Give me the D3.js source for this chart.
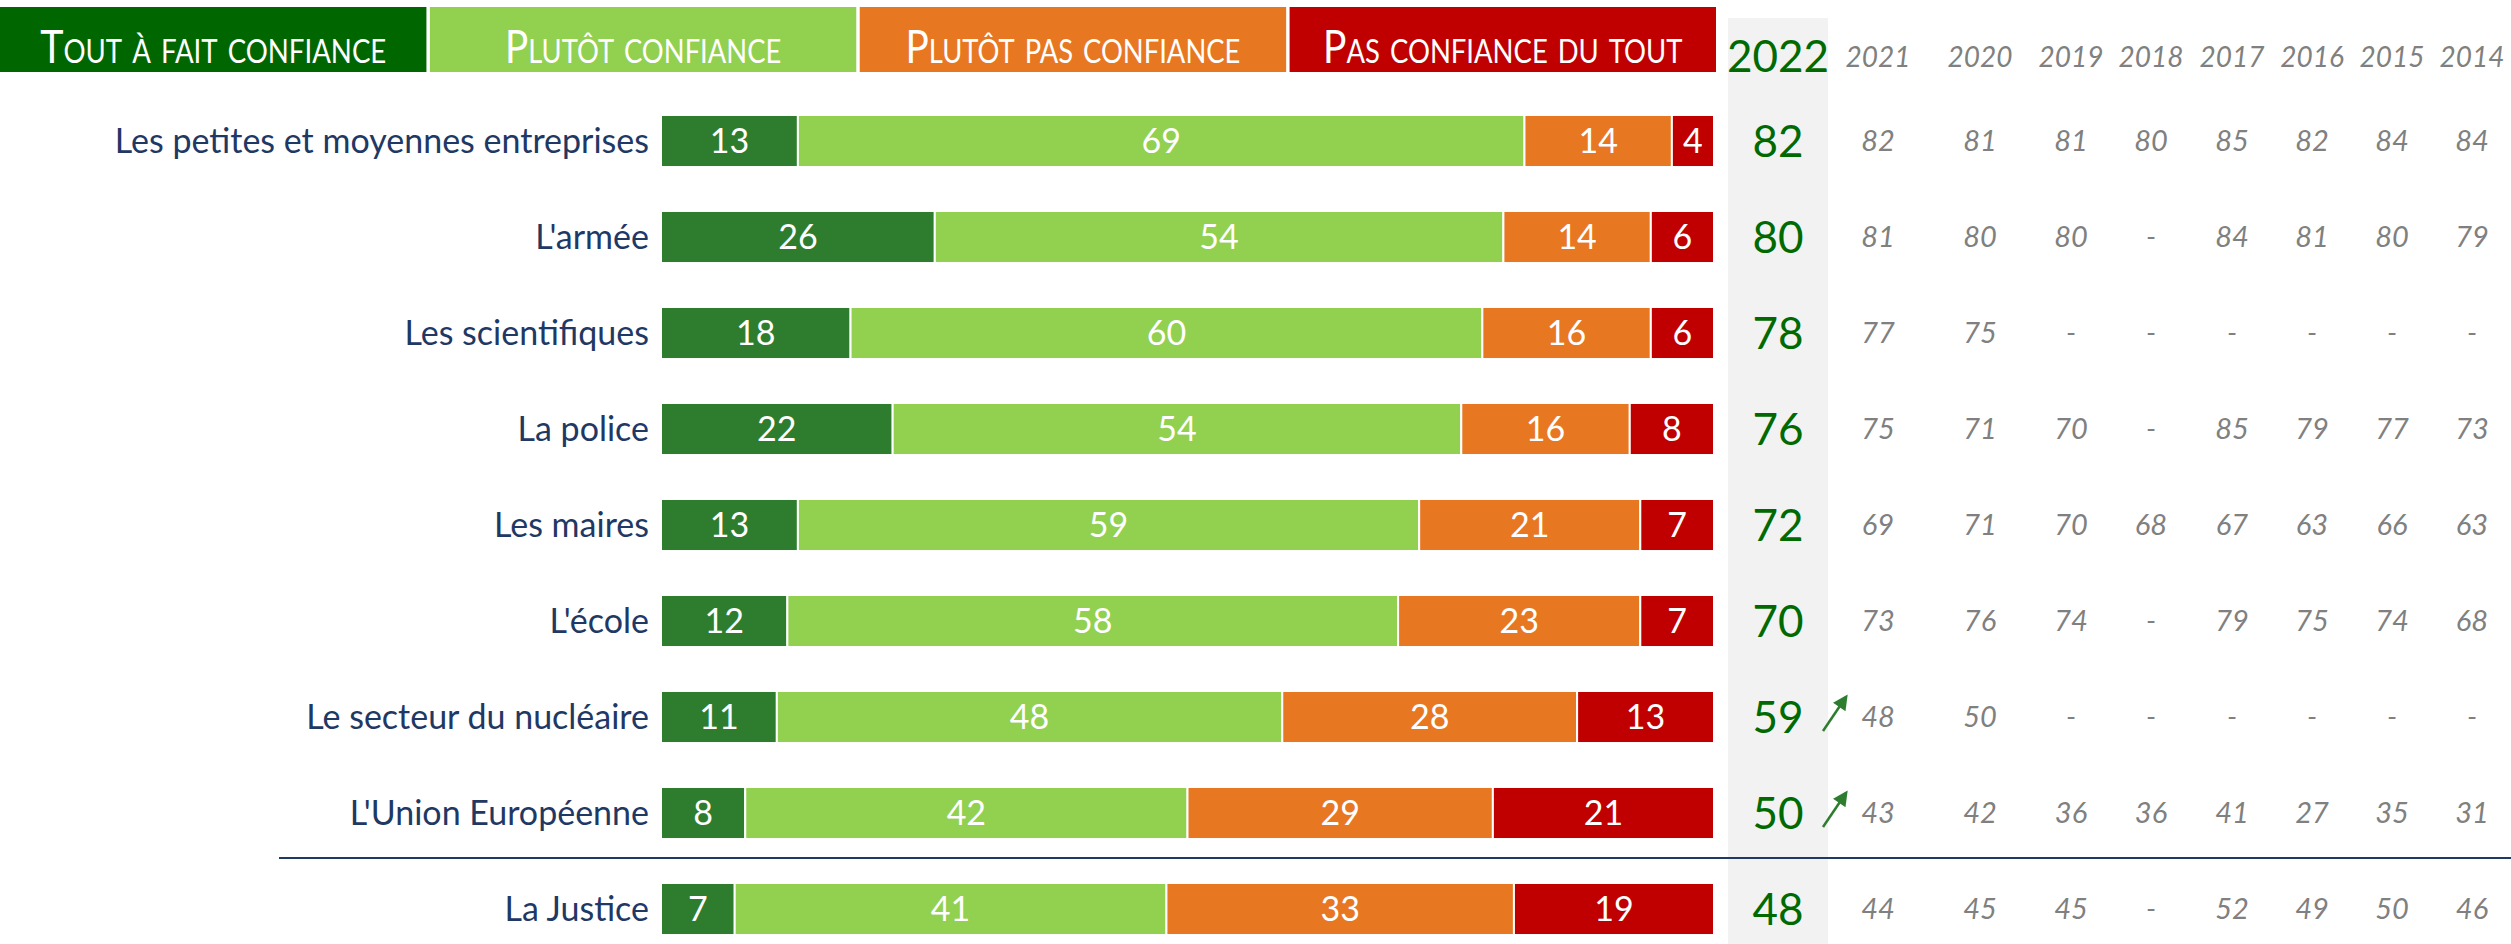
<!DOCTYPE html>
<html>
<head>
<meta charset="utf-8">
<script src="https://cdn.jsdelivr.net/npm/d3@7"></script>
<style>
  html, body { margin: 0; padding: 0; background: #fff; }
  svg { display: block; font-family: Lato, "Open Sans", sans-serif; }
</style>
</head>
<body>
<svg id="chart"></svg>
<script>
const categories = [
  "Les petites et moyennes entreprises",
  "L'armée",
  "Les scientifiques",
  "La police",
  "Les maires",
  "L'école",
  "Le secteur du nucléaire",
  "L'Union Européenne",
  "La Justice"
];
const toutAFait = [13, 26, 18, 22, 13, 12, 11, 8, 7];
const plutot = [69, 54, 60, 54, 59, 58, 48, 42, 41];
const plutotPas = [14, 14, 16, 16, 21, 23, 28, 29, 33];
const pasDuTout = [4, 6, 6, 8, 7, 7, 13, 21, 19];
const total2022 = [82, 80, 78, 76, 72, 70, 59, 50, 48];

const legendLabels = ["Tout à fait confiance", "Plutôt confiance", "Plutôt pas confiance", "Pas confiance du tout"];
const pastYears = ["2021", "2020", "2019", "2018", "2017", "2016", "2015", "2014"];
// one row per category, "-" = not asked that year
const pastValues = [
  ["82", "81", "81", "80", "85", "82", "84", "84"],
  ["81", "80", "80", "-", "84", "81", "80", "79"],
  ["77", "75", "-", "-", "-", "-", "-", "-"],
  ["75", "71", "70", "-", "85", "79", "77", "73"],
  ["69", "71", "70", "68", "67", "63", "66", "63"],
  ["73", "76", "74", "-", "79", "75", "74", "68"],
  ["48", "50", "-", "-", "-", "-", "-", "-"],
  ["43", "42", "36", "36", "41", "27", "35", "31"],
  ["44", "45", "45", "-", "52", "49", "50", "46"]
];
const trendUp = ["Le secteur du nucléaire", "L'Union Européenne"];

const width = 2511, height = 944;
const keys = ["toutAFait", "plutot", "plutotPas", "pasDuTout"];
const barColors = ["#2e7d2e", "#92d050", "#e87722", "#c00000"];
const legendColors = ["#006600", "#92d050", "#e87722", "#c00000"];
const legendTextWidths = [344, 273, 331, 356];
const navy = "#1f3864";
const green2022 = "#006a00";

const rows = categories.map((c, i) => ({
  name: c,
  toutAFait: toutAFait[i],
  plutot: plutot[i],
  plutotPas: plutotPas[i],
  pasDuTout: pasDuTout[i],
  total: total2022[i],
  past: pastValues[i]
}));

const svg = d3.select("#chart").attr("width", width).attr("height", height);

const x = d3.scaleLinear().domain([0, 100]).range([661, 1714]);
const y = d3.scaleBand().domain(categories).range([93, 957])
  .paddingInner(0.458).paddingOuter(0.229);

const colX = d3.scaleOrdinal().domain(pastYears)
  .range([1878, 1980, 2071, 2151, 2232, 2312, 2392, 2472]);
const col2022 = 1778;

// grey 2022 column
svg.append("rect")
  .attr("x", 1728).attr("y", 18)
  .attr("width", 100).attr("height", height - 18)
  .attr("fill", "#f2f2f2");

// legend
const lx = d3.scaleBand().domain(legendLabels).range([0, 1716]).paddingInner(0.008);
const lg = svg.append("g");
lg.selectAll("rect")
  .data(legendLabels)
  .join("rect")
  .attr("x", d => lx(d))
  .attr("y", 7)
  .attr("width", lx.bandwidth())
  .attr("height", 65)
  .attr("fill", (d, i) => legendColors[i]);

// Lato is wider than the original font: squeeze each label horizontally
lg.selectAll("text")
  .data(legendLabels)
  .join("text")
  .attr("text-anchor", "middle")
  .attr("fill", "#fff")
  .style("font-size", "46px")
  .style("font-variant", "small-caps")
  .text(d => d)
  .attr("transform", function (d, i) {
    const w = this.getComputedTextLength();
    const sx = Math.min(1, legendTextWidths[i] / w);
    return `translate(${lx(d) + lx.bandwidth() / 2},63) scale(${sx},1)`;
  });

// headers
svg.append("text")
  .attr("x", col2022).attr("y", 72)
  .attr("text-anchor", "middle")
  .attr("fill", green2022)
  .style("font-size", "44px")
  .text("2022");
svg.selectAll(".year")
  .data(pastYears)
  .join("text")
  .attr("class", "year")
  .attr("x", d => colX(d)).attr("y", 67)
  .attr("text-anchor", "middle")
  .attr("fill", "#808080")
  .style("font-size", "28px")
  .style("font-style", "italic")
  .text(d => d);

// stacked bars
const series = d3.stack().keys(keys)(rows);
const bars = svg.append("g");
series.forEach((s, k) => {
  const g = bars.append("g");
  g.selectAll("rect")
    .data(s)
    .join("rect")
    .attr("x", d => x(d[0]))
    .attr("y", d => y(d.data.name))
    .attr("width", d => x(d[1]) - x(d[0]))
    .attr("height", y.bandwidth())
    .attr("fill", barColors[k])
    .attr("stroke", "#fff")
    .attr("stroke-width", 2);
  g.selectAll("text")
    .data(s)
    .join("text")
    .attr("x", d => (x(d[0]) + x(d[1])) / 2)
    .attr("y", d => y(d.data.name) + y.bandwidth() / 2)
    .attr("dy", "0.36em")
    .attr("text-anchor", "middle")
    .attr("fill", "#fff")
    .style("font-size", "34px")
    .text(d => d[1] - d[0]);
});

// category labels
svg.append("g").selectAll("text")
  .data(rows)
  .join("text")
  .attr("x", 649)
  .attr("y", d => y(d.name) + y.bandwidth() / 2)
  .attr("dy", "0.36em")
  .attr("text-anchor", "end")
  .attr("fill", navy)
  .style("font-size", "34px")
  .text(d => d.name);

// 2022 totals
svg.append("g").selectAll("text")
  .data(rows)
  .join("text")
  .attr("x", col2022)
  .attr("y", d => y(d.name) + y.bandwidth() / 2)
  .attr("dy", "0.36em")
  .attr("text-anchor", "middle")
  .attr("fill", green2022)
  .style("font-size", "44px")
  .text(d => d.total);

// previous years
const past = svg.append("g");
rows.forEach(r => {
  past.selectAll(null)
    .data(r.past)
    .join("text")
    .attr("x", (d, i) => colX(pastYears[i]))
    .attr("y", y(r.name) + y.bandwidth() / 2)
    .attr("dy", "0.36em")
    .attr("text-anchor", "middle")
    .attr("fill", "#808080")
    .style("font-size", "29px")
    .style("font-style", "italic")
    .text(d => d);
});

// trend arrows
svg.append("defs").append("marker")
  .attr("id", "head")
  .attr("viewBox", "0 0 10 10")
  .attr("refX", 8).attr("refY", 5)
  .attr("markerWidth", 7).attr("markerHeight", 6)
  .attr("orient", "auto")
  .append("path")
  .attr("d", "M0,0 L10,5 L0,10 z")
  .attr("fill", "#2e7d2e");
svg.append("g").selectAll("line")
  .data(rows.filter(r => trendUp.includes(r.name)))
  .join("line")
  .attr("x1", 1823).attr("x2", 1846)
  .attr("y1", d => y(d.name) + y.bandwidth() / 2 + 14)
  .attr("y2", d => y(d.name) + y.bandwidth() / 2 - 20)
  .attr("stroke", "#2e7d2e")
  .attr("stroke-width", 2.5)
  .attr("marker-end", "url(#head)");

// separator before La Justice
const last = categories[categories.length - 1];
const prev = categories[categories.length - 2];
const sepY = (y(prev) + y.bandwidth() + y(last)) / 2 - 3;
svg.append("line")
  .attr("x1", 279).attr("x2", width)
  .attr("y1", sepY).attr("y2", sepY)
  .attr("stroke", navy)
  .attr("stroke-width", 2);
</script>
</body>
</html>
